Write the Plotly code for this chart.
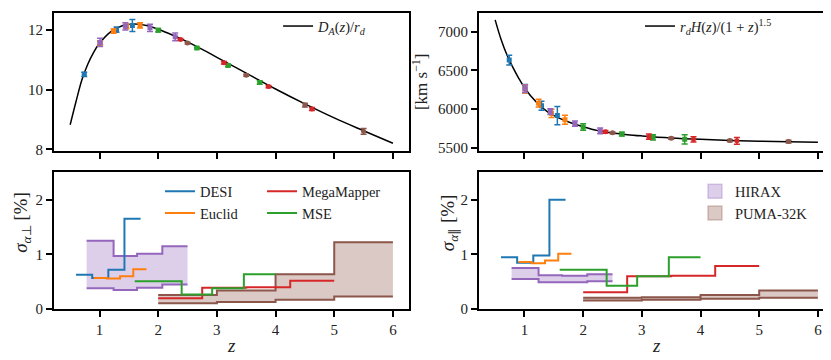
import plotly.graph_objects as go
from plotly.subplots import make_subplots

# fiducial curves at these redshifts
z_curve = [0.5, 0.6, 0.7, 0.8, 0.9, 1.0, 1.2, 1.4, 1.6, 1.8, 2.0, 2.25, 2.5,
           2.75, 3.0, 3.5, 4.0, 4.5, 5.0, 5.5, 6.0]
da_curve = [8.82, 9.60, 10.33, 10.85, 11.25, 11.55, 11.95, 12.15, 12.20, 12.15,
            12.02, 11.82, 11.60, 11.35, 11.08, 10.55, 10.02, 9.52, 9.05, 8.62, 8.20]
h_curve = [7150, 6900, 6700, 6540, 6400, 6275, 6090, 5960, 5880, 5820, 5772,
           5722, 5692, 5670, 5654, 5628, 5610, 5596, 5586, 5578, 5572]

# DESI
desi_edges = [0.6, 0.875, 1.15, 1.425, 1.7]
desi_perp = [0.63, 0.57, 0.72, 1.65]
desi_par = [0.95, 0.85, 0.98, 2.0]
desi_z = [0.74, 1.01, 1.29, 1.56]
desi_da = [10.51, 11.57, 12.01, 12.15]
desi_da_err = [0.07, 0.07, 0.09, 0.20]
desi_h = [6631, 6262, 6042, 5916]
desi_h_err = [63, 53, 59, 118]

# Euclid
euclid_edges = [0.9, 1.125, 1.35, 1.575, 1.8]
euclid_perp = [0.57, 0.56, 0.60, 0.73]
euclid_par = [0.86, 0.84, 0.89, 1.01]
euclid_z = [1.01, 1.24, 1.46, 1.69]
euclid_da = [11.56, 11.96, 12.12, 12.15]
euclid_da_err = [0.07, 0.07, 0.08, 0.09]
euclid_h = [6260, 6076, 5945, 5862]
euclid_h_err = [54, 51, 53, 59]

# MSE
mse_edges = [1.6, 2.4, 2.92, 3.46, 4.0]
mse_perp = [0.51, 0.27, 0.38, 0.64]
mse_par = [0.72, 0.43, 0.60, 0.95]
mse_z = [2.0, 2.66, 3.19, 3.73]
mse_da = [11.99, 11.39, 10.81, 10.24]
mse_da_err = [0.06, 0.03, 0.04, 0.06]
mse_h = [5769, 5677, 5635, 5610]
mse_h_err = [42, 24, 34, 60]

# MegaMapper
mm_edges = [2.0, 2.75, 3.5, 4.25, 5.0]
mm_perp = [0.20, 0.39, 0.40, 0.52]
mm_par = [0.31, 0.60, 0.61, 0.79]
mm_z = [2.38, 3.12, 3.88, 4.62]
mm_da = [11.68, 10.90, 10.10, 9.35]
mm_da_err = [0.03, 0.04, 0.04, 0.05]
mm_h = [5706, 5643, 5610, 5590]
mm_h_err = [18, 34, 34, 44]

# HIRAX (band between optimistic / pessimistic)
hirax_edges = [0.78, 1.24, 1.64, 2.07, 2.5]
hirax_perp_lo = [0.38, 0.35, 0.39, 0.45]
hirax_perp_hi = [1.25, 0.97, 1.01, 1.15]
hirax_par_lo = [0.55, 0.49, 0.49, 0.51]
hirax_par_hi = [0.75, 0.62, 0.61, 0.64]
hirax_z = [1.01, 1.44, 1.86, 2.29]
hirax_da = [11.58, 12.12, 12.07, 11.77]
hirax_da_err = [0.14, 0.12, 0.12, 0.13]
hirax_h = [6262, 5967, 5812, 5719]
hirax_h_err = [47, 37, 35, 37]

# PUMA-32K
puma_edges = [2.0, 3.0, 4.0, 5.0, 6.0]
puma_perp_lo = [0.11, 0.13, 0.17, 0.23]
puma_perp_hi = [0.26, 0.34, 0.64, 1.22]
puma_par_lo = [0.16, 0.17, 0.19, 0.21]
puma_par_hi = [0.21, 0.22, 0.26, 0.34]
puma_z = [2.5, 3.5, 4.5, 5.5]
puma_da = [11.56, 10.48, 9.48, 8.60]
puma_da_err = [0.03, 0.03, 0.06, 0.10]
puma_h = [5693, 5623, 5593, 5580]
puma_h_err = [12, 12, 15, 19]

BLUE, ORANGE, GREEN = "#1f77b4", "#ff7f0e", "#2ca02c"
RED, PURPLE, BROWN = "#d62728", "#9467bd", "#8c564b"
FONT = "Liberation Serif"

lines = [
    ("DESI", BLUE, desi_edges, desi_perp, desi_par, "legend3"),
    ("Euclid", ORANGE, euclid_edges, euclid_perp, euclid_par, "legend3"),
    ("MegaMapper", RED, mm_edges, mm_perp, mm_par, "legend4"),
    ("MSE", GREEN, mse_edges, mse_perp, mse_par, "legend4"),
]
bands = [
    ("HIRAX", PURPLE, "rgba(148,103,189,0.32)", hirax_edges,
     hirax_perp_lo, hirax_perp_hi, hirax_par_lo, hirax_par_hi),
    ("PUMA-32K", BROWN, "rgba(140,86,75,0.32)", puma_edges,
     puma_perp_lo, puma_perp_hi, puma_par_lo, puma_par_hi),
]
points = [
    (BLUE, "square", desi_z, desi_da, desi_da_err, desi_h, desi_h_err),
    (ORANGE, "square", euclid_z, euclid_da, euclid_da_err, euclid_h, euclid_h_err),
    (PURPLE, "square", hirax_z, hirax_da, hirax_da_err, hirax_h, hirax_h_err),
    (GREEN, "square", mse_z, mse_da, mse_da_err, mse_h, mse_h_err),
    (RED, "circle", mm_z, mm_da, mm_da_err, mm_h, mm_h_err),
    (BROWN, "circle", puma_z, puma_da, puma_da_err, puma_h, puma_h_err),
]


def step_y(vals):
    return list(vals) + [vals[-1]]


fig = make_subplots(rows=2, cols=2)

fig.add_trace(go.Scatter(x=z_curve, y=da_curve, mode="lines", line_shape="spline",
                         line=dict(color="black", width=1.5),
                         name="<i>D<sub>A</sub></i>(<i>z</i>)/<i>r<sub>d</sub></i>",
                         legend="legend"), row=1, col=1)
fig.add_trace(go.Scatter(x=z_curve, y=h_curve, mode="lines", line_shape="spline",
                         line=dict(color="black", width=1.5),
                         name="<i>r<sub>d</sub>H</i>(<i>z</i>)/(1 + <i>z</i>)<sup>1.5</sup>",
                         legend="legend2"), row=1, col=2)

for color, symbol, zz, da, da_err, hh, h_err in points:
    for row_col, yy, err in (((1, 1), da, da_err), ((1, 2), hh, h_err)):
        fig.add_trace(go.Scatter(
            x=zz, y=yy, mode="markers", showlegend=False,
            marker=dict(color=color, size=5, symbol=symbol),
            error_y=dict(type="data", array=err, color=color, thickness=1.5, width=3),
        ), row=row_col[0], col=row_col[1])

for name, color, fill, edges, plo, phi, qlo, qhi in bands:
    for col, lo, hi in ((1, plo, phi), (2, qlo, qhi)):
        fig.add_trace(go.Scatter(x=edges, y=step_y(lo), mode="lines", line_shape="hv",
                                 line=dict(color=color, width=2), showlegend=False),
                      row=2, col=col)
        fig.add_trace(go.Scatter(x=edges, y=step_y(hi), mode="lines", line_shape="hv",
                                 line=dict(color=color, width=2), fill="tonexty",
                                 fillcolor=fill, showlegend=False),
                      row=2, col=col)
    fig.add_trace(go.Scatter(x=[None], y=[None], mode="markers", name=name,
                             legend="legend5", legendgroup=name,
                             marker=dict(symbol="square", size=14, color=fill,
                                         line=dict(color=fill, width=1.5))),
                  row=2, col=2)

for name, color, edges, perp, par, leg in lines:
    fig.add_trace(go.Scatter(x=edges, y=step_y(perp), mode="lines", line_shape="hv",
                             line=dict(color=color, width=2), name=name,
                             legend=leg, legendgroup=name), row=2, col=1)
    fig.add_trace(go.Scatter(x=edges, y=step_y(par), mode="lines", line_shape="hv",
                             line=dict(color=color, width=2), showlegend=False),
                  row=2, col=2)

axis_style = dict(showline=True, mirror=True, linecolor="black", linewidth=2,
                  ticks="outside", ticklen=6, tickwidth=1.5, tickcolor="black",
                  showgrid=False, zeroline=False,
                  tickfont=dict(family=FONT, size=15, color="#222"))
xl = [0.0554, 0.4826]
xr = [0.5668, 0.9940]
yt = [0.5944, 0.9861]
yb = [0.1444, 0.5333]
xr_range = [0.225, 6.275]
ticks_z = [1, 2, 3, 4, 5, 6]

fig.update_xaxes(axis_style, range=xr_range, tickvals=ticks_z)
fig.update_yaxes(axis_style)
fig.update_layout(
    xaxis=dict(domain=xl, showticklabels=False),
    xaxis2=dict(domain=xr, showticklabels=False),
    xaxis3=dict(domain=xl),
    xaxis4=dict(domain=xr),
    yaxis=dict(domain=yt, range=[7.95, 12.57], tickvals=[8, 10, 12]),
    yaxis2=dict(domain=yt, range=[5462, 7240], tickvals=[5500, 6000, 6500, 7000]),
    yaxis3=dict(domain=yb, range=[0, 2.5], tickvals=[0, 1, 2]),
    yaxis4=dict(domain=yb, range=[0, 2.5], tickvals=[0, 1, 2]),
)

leg_font = dict(family=FONT, size=14.5, color="#222")
leg_common = dict(font=leg_font, bgcolor="rgba(0,0,0,0)", borderwidth=0,
                  xanchor="left", yanchor="top", tracegroupgap=0)
fig.update_layout(
    legend=dict(leg_common, x=0.3250, y=0.9940),
    legend2=dict(leg_common, x=0.7605, y=0.9940),
    legend3=dict(leg_common, x=0.1829, y=0.5250),
    legend4=dict(leg_common, x=0.3057, y=0.5250),
    legend5=dict(leg_common, x=0.8267, y=0.5250),
)

title_font = dict(family=FONT, size=19, color="#222")
annotations = [
    dict(text="<i>z</i>", x=0.269, y=0.042),
    dict(text="<i>z</i>", x=0.780, y=0.042),
    dict(text="<i>σ</i><sub><i>α</i>⊥</sub> [%]", x=0.017, y=0.39, textangle=-90),
    dict(text="<i>σ</i><sub><i>α</i>∥</sub> [%]", x=0.530, y=0.39, textangle=-90),
    dict(text="[km s<sup>−1</sup>]", x=0.496, y=0.79, textangle=-90,
         font=dict(family=FONT, size=17, color="#222")),
]
for a in annotations:
    a.setdefault("font", title_font)
    fig.add_annotation(a, xref="paper", yref="paper", showarrow=False,
                       xanchor="center", yanchor="middle")

fig.update_layout(
    width=831, height=360, autosize=False,
    margin=dict(l=0, r=0, t=0, b=0),
    paper_bgcolor="white", plot_bgcolor="white",
    font=dict(family=FONT, color="#222"),
)

fig.write_html("out.html", config={"displayModeBar": False})
